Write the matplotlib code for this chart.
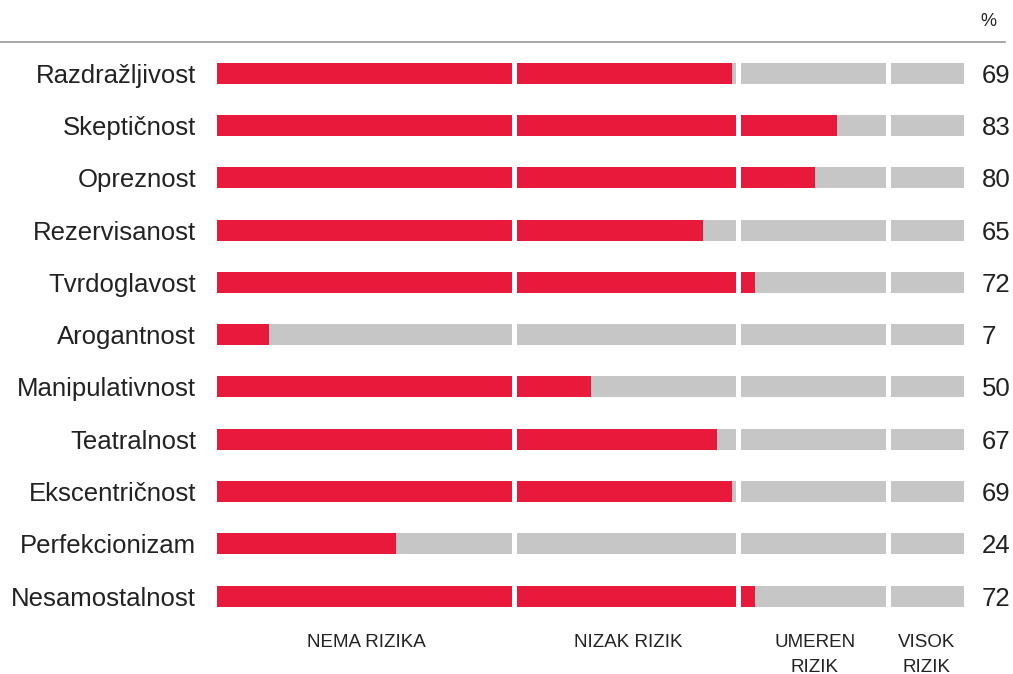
import matplotlib
matplotlib.use("Agg")
import matplotlib.pyplot as plt
from matplotlib.lines import Line2D
import numpy as np

plt.rcParams['font.family'] = ['Liberation Sans', 'DejaVu Sans']

#-------------------------
# data

traits = ['Razdražljivost', 'Skeptičnost', 'Opreznost', 'Rezervisanost', 'Tvrdoglavost',
          'Arogantnost', 'Manipulativnost', 'Teatralnost', 'Ekscentričnost',
          'Perfekcionizam', 'Nesamostalnost']
scores = [69, 83, 80, 65, 72, 7, 50, 67, 69, 24, 72]

zone_edges = [0, 40, 70, 90, 100]
zone_labels = ['NEMA RIZIKA', 'NIZAK RIZIK', 'UMEREN\nRIZIK', 'VISOK\nRIZIK']

#-------------------------

red = '#E8193A'
grey = '#C6C6C6'
txt = '#222222'

W, H = 1013, 674
fig = plt.figure(figsize=(W / 100, H / 100), dpi=100)

# axes placed in pixel terms: x 0..100 -> 217..964 px, rows 52.3 px apart
ax = fig.add_axes([217 / W, 1 - 622.3 / H, 747 / W, 575.3 / H])

y = np.arange(len(traits))
ax.barh(y, 100, height=0.4, color=grey, zorder=1)
ax.barh(y, scores, height=0.4, color=red, zorder=2)

# white gaps between zones
for b in zone_edges[1:-1]:
    ax.axvline(b - 0.2, color='white', lw=3.6, zorder=3)

ax.set_xlim(0, 100)
ax.set_ylim(len(traits) - 0.5, -0.5)

ax.set_yticks(y)
ax.set_yticklabels(traits, fontsize=18.5, color=txt, va='center_baseline')
ax.tick_params(axis='y', length=0, pad=15)
ax.set_xticks([])
for s in ax.spines.values():
    s.set_visible(False)

# score values on the right
for i, v in enumerate(scores):
    ax.text(102.4, i, str(v), va='center_baseline', ha='left', fontsize=18.5,
            color=txt, clip_on=False)

# zone labels below
for k in range(len(zone_labels)):
    xc = (zone_edges[k] + zone_edges[k + 1]) / 2
    ax.text(xc, 10.72, zone_labels[k], ha='center', va='top', fontsize=13.5,
            color=txt, linespacing=1.6, clip_on=False)

# top rule and percent sign
fig.add_artist(Line2D([0, 1005 / W], [1 - 42 / H, 1 - 42 / H], color='#999999', lw=1.2))
fig.text(988 / W, 1 - 22 / H, '%', ha='center', va='center', fontsize=13, color=txt)

fig.savefig('out.png', dpi=100)
